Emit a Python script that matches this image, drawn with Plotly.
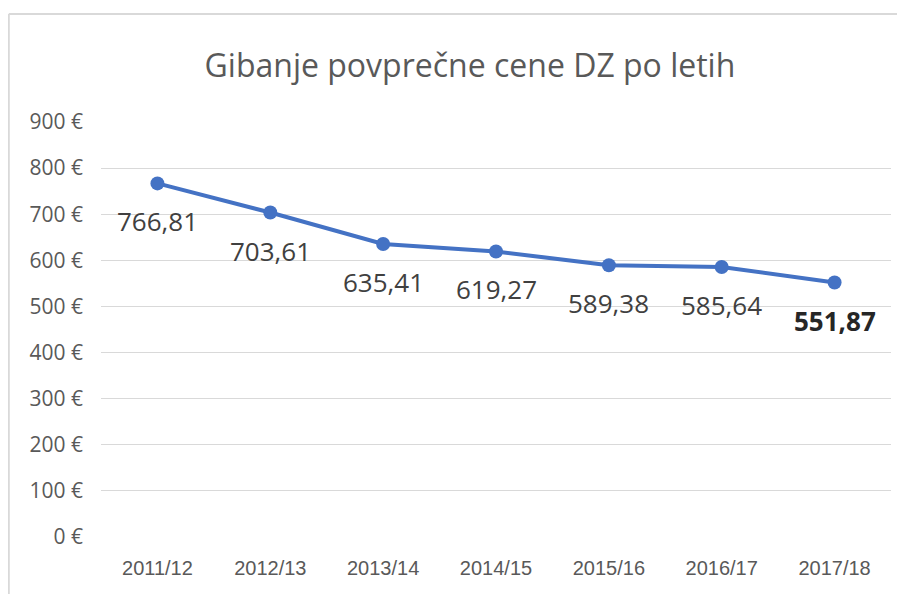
import plotly.graph_objects as go

categories = ["2011/12", "2012/13", "2013/14", "2014/15", "2015/16", "2016/17", "2017/18"]
values = [766.81, 703.61, 635.41, 619.27, 589.38, 585.64, 551.87]
labels = ["766,81", "703,61", "635,41", "619,27", "589,38", "585,64", "551,87"]
y_ticks = [0, 100, 200, 300, 400, 500, 600, 700, 800, 900]
y_tick_labels = ["0 €", "100 €", "200 €", "300 €", "400 €", "500 €", "600 €", "700 €", "800 €", "900 €"]
title = "Gibanje povprečne cene DZ po letih"

fig = go.Figure()
fig.add_trace(go.Scatter(
    x=categories, y=values, mode="lines+markers",
    line=dict(color="#4472C4", width=4),
    marker=dict(color="#4472C4", size=14),
    hoverinfo="skip", showlegend=False,
))

for i, (c, v, t) in enumerate(zip(categories, values, labels)):
    last = i == len(categories) - 1
    fig.add_annotation(
        x=c, y=v, text=f"<b>{t}</b>" if last else t, showarrow=False,
        yshift=-38, xshift=0,
        font=dict(family="Open Sans, Noto Sans, sans-serif", size=26,
                  color="#262626" if last else "#404040"),
    )

W, H = 897, 586
L, R, T, B = 93, 14, 114, 57
pw, ph = W - L - R, H - T - B
fx0 = (0 - L) / pw + 0.001
fy0 = 1 + (T - 6) / ph

fig.update_layout(
    width=W, height=H,
    margin=dict(l=L, r=R, t=T, b=B),
    paper_bgcolor="white", plot_bgcolor="white",
    title=dict(text=title, x=0.515, xanchor="center", y=1 - 58 / H, yanchor="middle",
               font=dict(family="Open Sans, Noto Sans, sans-serif", size=32, color="#595959")),
    xaxis=dict(type="category", range=[-0.5, 6.5], showgrid=False, showline=False,
               automargin=False, ticks="",
               tickfont=dict(family="Liberation Sans Narrow, Arial Narrow, Liberation Sans, sans-serif",
                             size=20, color="#595959"), ticklabelstandoff=17),
    yaxis=dict(range=[0, 900], tickmode="array", tickvals=y_ticks, ticktext=y_tick_labels,
               automargin=False,
               showgrid=True, gridcolor="#d9d9d9", gridwidth=1, zeroline=False, showline=False,
               tickfont=dict(family="Open Sans, Noto Sans, sans-serif", size=21, color="#595959"),
               ticklabelstandoff=17),
    shapes=[
        dict(type="line", xref="paper", yref="paper", x0=fx0, x1=1.03, y0=fy0, y1=fy0,
             line=dict(color="#d9d9d9", width=2)),
        dict(type="line", xref="paper", yref="paper", x0=fx0, x1=fx0, y0=-0.2, y1=fy0,
             line=dict(color="#d9d9d9", width=2)),
    ],
)

fig.write_html("out.html")
